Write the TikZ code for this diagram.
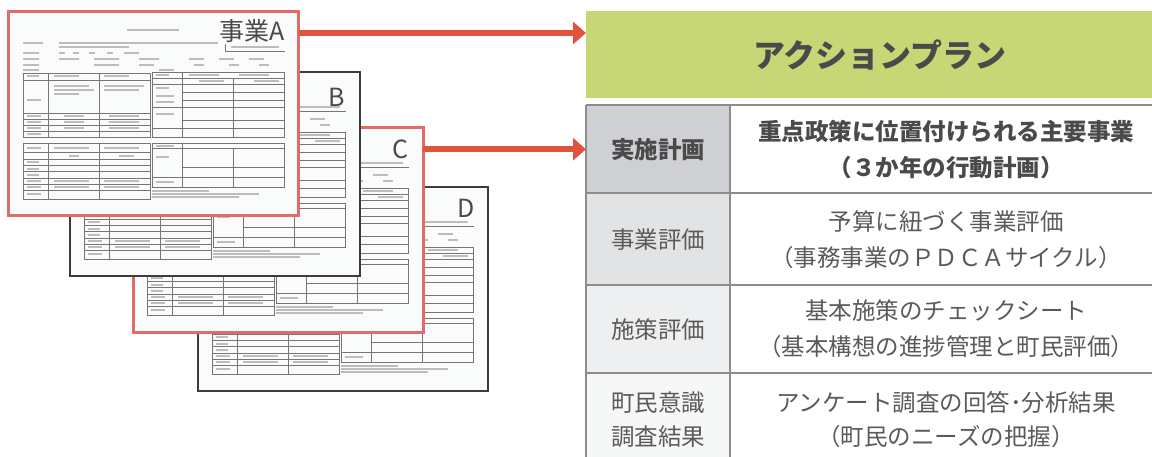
\documentclass[tikz,border=0pt]{standalone}
\usepackage{fontspec}
\setmainfont{Noto Sans CJK JP}
\usetikzlibrary{arrows.meta}
\definecolor{arrred}{HTML}{E0533C}
\definecolor{docred}{HTML}{E26A68}
\definecolor{docblk}{HTML}{3C3C3C}
\definecolor{docfill}{HTML}{FAFCFC}
\definecolor{hdrgreen}{HTML}{C8D775}
\definecolor{txt}{HTML}{4A4A4A}
\definecolor{txtl}{HTML}{5A5A5A}
\definecolor{gridc}{HTML}{8C8C8C}
\definecolor{cA}{HTML}{CFD0D4}
\definecolor{cB}{HTML}{E2E3E5}
\definecolor{cC}{HTML}{EEEFF0}
\definecolor{cD}{HTML}{F6F7F7}
\definecolor{fline}{HTML}{767676}
\definecolor{fbar}{HTML}{BDBDBD}
\newcommand\formbody{%
  \begin{scope}[fbar, line width=1.1pt]
    \draw (118,18) -- (170,18);
    \draw (14,31) -- (34,31) (50,31) -- (210,31);
    \draw (50,35) -- (120,35) (222,35) -- (270,35);
    \draw (14,41) -- (30,41) (50,41) -- (56,41) (64,41) -- (70,41) (80,41) -- (86,41) (98,41) -- (104,41) (115,41) -- (130,41);
    \draw (14,47) -- (30,47) (50,47) -- (70,47) (85,47) -- (110,47) (130,47) -- (150,47) (180,47) -- (195,47) (210,47) -- (225,47) (240,47) -- (255,47);
    \draw (14,53) -- (30,53) (85,53) -- (110,53) (130,53) -- (145,53) (185,53) -- (195,53) (220,53) -- (230,53) (250,53) -- (260,53);
    \draw (14,58) -- (30,58) (150,58) -- (165,58);
    \draw (18,64) -- (30,64) (45,64) -- (70,64) (95,64) -- (120,64);
    \draw (45,74) -- (80,74) (45,78) -- (85,78) (45,82) -- (70,82) (95,74) -- (135,74) (95,78) -- (130,78);
    \draw (18,88) -- (32,88) (18,104) -- (32,104) (18,110) -- (32,110) (18,116) -- (32,116) (18,122) -- (32,122);
    \draw (55,104) -- (75,104) (55,110) -- (75,110) (55,116) -- (75,116) (100,104) -- (130,104) (100,110) -- (130,110) (100,116) -- (130,116);
    \draw (18,136) -- (32,136) (45,136) -- (80,136) (95,136) -- (130,136);
    \draw (60,144) -- (70,144) (110,144) -- (125,144);
    \draw (18,150) -- (30,150) (18,157) -- (30,157) (18,163) -- (30,163) (18,169) -- (32,169) (18,175) -- (32,175) (18,182) -- (32,182);
    \draw (45,169) -- (80,169) (95,169) -- (130,169) (45,175) -- (80,175) (95,175) -- (130,175);
    \draw (147,63) -- (160,63) (180,63) -- (210,63) (230,63) -- (260,63);
    \draw (190,69) -- (215,69) (245,69) -- (270,69);
    \draw (147,76) -- (160,76) (147,84) -- (165,84) (147,90) -- (165,90) (147,102) -- (165,102);
    \draw (147,134) -- (165,134) (147,145) -- (160,145) (147,170) -- (165,170);
    \draw (143,179) -- (200,179) (143,182) -- (250,182) (143,185) -- (230,185);
  \end{scope}
  \begin{scope}[fline, line width=0.6pt]
    \draw (14,61) rectangle (141,125);
    \draw (39,61) -- (39,125) (90,61) -- (90,125);
    \draw (14,68) -- (141,68) (14,101) -- (141,101) (14,107) -- (141,107) (14,113) -- (141,113) (14,119) -- (141,119);
    \draw (14,131) rectangle (141,187);
    \draw (39,131) -- (39,187) (90,131) -- (90,187);
    \draw (14,140) -- (141,140) (14,147) -- (141,147) (14,153) -- (141,153) (14,159) -- (141,159) (14,166) -- (141,166) (14,172) -- (141,172) (14,178) -- (141,178);
    \draw (143,60) rectangle (275,125);
    \draw (173,60) -- (173,125) (224,66) -- (224,125);
    \draw (143,66) -- (275,66) (143,72) -- (275,72) (173,80) -- (275,80) (173,88) -- (275,88) (143,95) -- (275,95) (173,108) -- (275,108) (143,116) -- (275,116);
    \draw (143,131) rectangle (275,175);
    \draw (173,131) -- (173,175) (224,136) -- (224,175);
    \draw (143,136) -- (275,136) (173,155) -- (275,155) (143,165) -- (275,165);
    \draw (216,32) -- (216,39) -- (276,39);
  \end{scope}}
\tikzset{
  doc/.style={minimum width=290pt, minimum height=204pt, inner sep=0pt, outer sep=0pt, fill=docfill},
  redborder/.style={draw=docred, line width=3pt},
  blkborder/.style={draw=docblk, line width=2pt},
  letter/.style={text=txt, font=\fontsize{25pt}{25pt}\selectfont, inner sep=0pt},
  arr/.style={draw=arrred, line width=6pt, -{Triangle[length=13pt,width=22pt]}},
  gridline/.style={draw=gridc, line width=2pt},
  lcell/.style={minimum width=144pt, inner sep=0pt, outer sep=0pt, anchor=north west},
  ttext/.style={text=txtl, align=center, inner sep=0pt, font=\fontsize{23.5pt}{36pt}\selectfont},
  btext/.style={text=txt, align=center, inner sep=0pt, font=\fontsize{23.5pt}{36pt}\selectfont\bfseries}
}
\begin{document}
\begin{tikzpicture}[x=1pt, y=-1pt]
\useasboundingbox (0,0) rectangle (1152,457);
% documents
\node[doc, blkborder] (docD) at (343,289) {};
\begin{scope}[shift={(198,187)}]\formbody\end{scope}
\node[letter] (labD) at (466,208) {D};
\node[doc, redborder] (docC) at (278,230) {};
\begin{scope}[shift={(133,128)}]\formbody\end{scope}
\node[letter] (labC) at (400,149) {C};
\node[doc, blkborder] (docB) at (214.5,174) {};
\begin{scope}[shift={(70,72)}]\formbody\end{scope}
\node[letter] (labB) at (337,97) {B};
\node[doc, redborder] (docA) at (153.5,113.5) {};
\begin{scope}[shift={(9,12)}]\formbody\end{scope}
\node[letter, fill=docfill, inner sep=1pt] (labA) at (252,31) {事業A};
% header
\node[fill=hdrgreen, minimum width=566pt, minimum height=87pt, anchor=north west, inner sep=0pt, outer sep=0pt] (header) at (586,11) {};
\node[text=txt, font=\fontsize{32pt}{32pt}\selectfont\bfseries, inner sep=0pt] (title) at (880,55) {アクションプラン};
% table cells
\node[lcell, fill=cA, minimum height=88.5pt] (r1l) at (586,105) {};
\node[lcell, fill=cB, minimum height=92pt] (r2l) at (586,193.5) {};
\node[lcell, fill=cC, minimum height=87.5pt] (r3l) at (586,285.5) {};
\node[lcell, fill=cD, minimum height=84pt] (r4l) at (586,373) {};
\draw[gridline] (586,105) -- (1152,105);
\draw[gridline] (586,193.5) -- (1152,193.5);
\draw[gridline] (586,285.5) -- (1152,285.5);
\draw[gridline] (586,373) -- (1152,373);
\draw[gridline] (r1l.north west) -- (586,457);
\draw[gridline] (r1l.north east) -- (730,457);
\node[btext] (t1l) at (658,150) {実施計画};
\node[btext] (t1r) at (946,150) {重点政策に位置付けられる主要事業\\（３か年の行動計画）};
\node[ttext] (t2l) at (658,240) {事業評価};
\node[ttext] (t2r) at (946,240) {予算に紐づく事業評価\\（事務事業のＰＤＣＡサイクル）};
\node[ttext] (t3l) at (658,330) {施策評価};
\node[ttext] (t3r) at (946,328.5) {基本施策のチェックシート\\（基本構想の進捗管理と町民評価）};
\node[ttext, font=\fontsize{23.5pt}{34pt}\selectfont] (t4l) at (658,420) {町民意識\\調査結果};
\node[ttext, font=\fontsize{23.5pt}{34pt}\selectfont] (t4r) at (946,420) {アンケート調査の回答･分析結果\\（町民のニーズの把握）};
% arrows
\coordinate (aY) at (0,33);
\draw[arr] (docA.east |- aY) -- (header.west |- aY);
\draw[arr] (docC.east |- r1l.west) -- (r1l.west);
\end{tikzpicture}
\end{document}
